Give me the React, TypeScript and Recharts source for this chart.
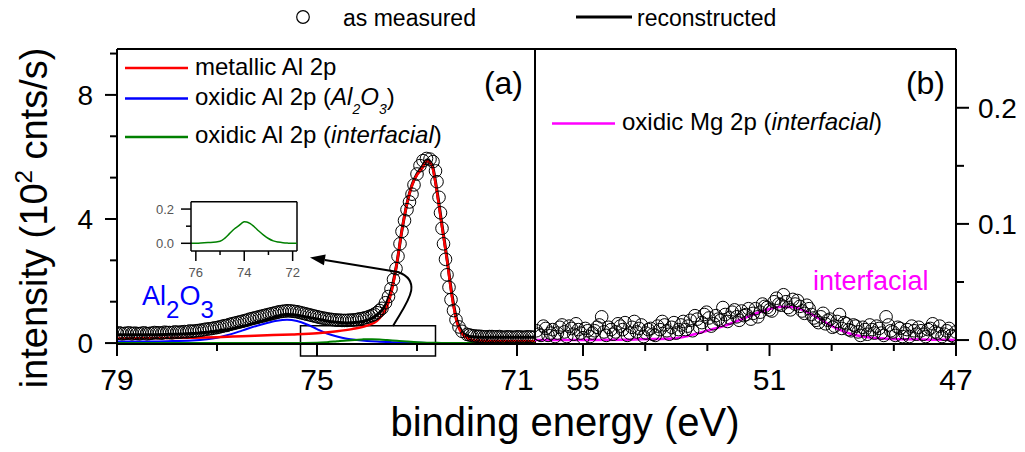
import React from 'react';
import { ComposedChart, LineChart, Line, Scatter, XAxis, YAxis, ReferenceArea, ReferenceLine } from 'recharts';

const FONT = '"Liberation Sans", Arial, Helvetica, sans-serif';

// ---------- (a) Al 2p region ----------
const alMeasuredEnergy = [
  79.0, 78.9, 78.8, 78.7, 78.6, 78.5, 78.4, 78.3, 78.2, 78.1,
  78.0, 77.9, 77.8, 77.7, 77.6, 77.5, 77.4, 77.3, 77.2, 77.1,
  77.0, 76.9, 76.8, 76.7, 76.6, 76.5, 76.4, 76.3, 76.2, 76.1,
  76.0, 75.9, 75.8, 75.7, 75.6, 75.5, 75.4, 75.3, 75.2, 75.1,
  75.0, 74.9, 74.8, 74.7, 74.6, 74.5, 74.4, 74.3, 74.2, 74.1,
  74.0, 73.9, 73.8, 73.7,
  73.63, 73.57, 73.52, 73.47, 73.42, 73.38, 73.34, 73.3, 73.25, 73.2,
  73.15, 73.1, 73.06, 73.0, 72.94, 72.88, 72.81, 72.74, 72.68, 72.63,
  72.6, 72.56, 72.53, 72.5, 72.47, 72.43, 72.4, 72.36, 72.32, 72.27,
  72.22, 72.16, 72.1,
  72.0, 71.9, 71.8, 71.7, 71.6, 71.5, 71.4, 71.3, 71.2, 71.1,
  71.0, 70.9, 70.8, 70.7,
  78.95, 78.85, 78.75, 78.65, 78.55, 78.45, 78.35, 78.25, 78.15, 78.05,
  77.95, 77.85, 77.75, 77.65, 77.55, 77.45, 77.35, 77.25, 77.15, 77.05,
  76.95, 76.85, 76.75, 76.65, 76.55, 76.45, 76.35, 76.25, 76.15, 76.05,
  75.95, 75.85, 75.75, 75.65, 75.55, 75.45, 75.35, 75.25, 75.15, 75.05,
  74.95, 74.85, 74.75, 74.65, 74.55, 74.45, 74.35, 74.25, 74.15, 74.05,
  73.95, 73.85, 73.75,
  71.95, 71.85, 71.75, 71.65, 71.55, 71.45, 71.35, 71.25, 71.15, 71.05,
  70.95, 70.85, 70.75, 70.65,
];
const alMeasuredIntensity = [
  0.31, 0.30, 0.32, 0.30, 0.31, 0.32, 0.30, 0.32, 0.33, 0.32,
  0.34, 0.33, 0.35, 0.36, 0.36, 0.38, 0.40, 0.42, 0.45, 0.47,
  0.50, 0.54, 0.57, 0.62, 0.66, 0.70, 0.74, 0.79, 0.83, 0.87,
  0.91, 0.95, 0.99, 1.02, 1.04, 1.03, 1.01, 0.97, 0.93, 0.89,
  0.85, 0.81, 0.78, 0.76, 0.74, 0.73, 0.73, 0.74, 0.76, 0.79,
  0.83, 0.89, 0.98, 1.12,
  1.30, 1.50, 1.75, 2.05, 2.40, 2.80, 3.20, 3.60, 3.95, 4.30,
  4.55, 4.80, 5.10, 5.45, 5.72, 5.88, 5.95, 5.93, 5.85, 5.55,
  5.20, 4.70, 4.20, 3.70, 3.20, 2.70, 2.20, 1.80, 1.40, 1.05,
  0.75, 0.52, 0.38,
  0.28, 0.24, 0.22, 0.21, 0.20, 0.21, 0.20, 0.19, 0.20, 0.19,
  0.20, 0.19, 0.20, 0.19,
  0.33, 0.31, 0.33, 0.32, 0.30, 0.33, 0.31, 0.34, 0.33, 0.35,
  0.34, 0.36, 0.35, 0.37, 0.39, 0.39, 0.41, 0.44, 0.46, 0.49,
  0.52, 0.56, 0.60, 0.64, 0.68, 0.72, 0.77, 0.81, 0.85, 0.89,
  0.93, 0.97, 1.01, 1.03, 1.04, 1.02, 0.99, 0.95, 0.91, 0.87,
  0.83, 0.80, 0.77, 0.75, 0.74, 0.73, 0.74, 0.75, 0.78, 0.81,
  0.86, 0.93, 1.05,
  0.26, 0.23, 0.22, 0.20, 0.21, 0.20, 0.21, 0.19, 0.20, 0.19,
  0.20, 0.19, 0.20, 0.19,
];

const alFitEnergy = [
  79.0, 78.5, 78.0, 77.5, 77.2, 77.0, 76.8, 76.5, 76.2, 76.0,
  75.8, 75.6, 75.4, 75.2, 75.0, 74.8, 74.6, 74.4, 74.2, 74.0,
  73.9, 73.8, 73.7, 73.6, 73.5, 73.4, 73.3, 73.2, 73.1, 73.0,
  72.9, 72.8, 72.7, 72.6, 72.5, 72.4, 72.3, 72.2, 72.1, 72.0,
  71.9, 71.7, 71.0, 70.64,
];
const alFitIntensity = [
  0.27, 0.27, 0.28, 0.31, 0.35, 0.38, 0.43, 0.54, 0.67, 0.76,
  0.86, 0.92, 0.90, 0.84, 0.78, 0.71, 0.67, 0.65, 0.67, 0.73,
  0.80, 0.91, 1.06, 1.32, 1.80, 2.60, 3.65, 4.50, 5.10, 5.45,
  5.68, 5.90, 5.75, 4.90, 3.80, 2.72, 1.55, 0.72, 0.36, 0.24,
  0.20, 0.19, 0.19, 0.19,
];

const alMetalEnergy = [
  79.0, 78.0, 77.5, 77.0, 76.5, 76.0, 75.5, 75.0, 74.6, 74.3,
  74.0, 73.8, 73.7, 73.6, 73.5, 73.4, 73.3, 73.2, 73.1, 73.0,
  72.9, 72.8, 72.7, 72.6, 72.5, 72.4, 72.3, 72.2, 72.1, 72.0,
  71.9, 71.8, 71.5, 71.0, 70.64,
];
const alMetalIntensity = [
  0.15, 0.16, 0.17, 0.19, 0.22, 0.25, 0.28, 0.32, 0.38, 0.45,
  0.56, 0.72, 0.90, 1.17, 1.71, 2.60, 3.65, 4.50, 5.08, 5.42,
  5.62, 5.85, 5.70, 4.85, 3.75, 2.68, 1.49, 0.64, 0.30, 0.16,
  0.10, 0.08, 0.07, 0.07, 0.07,
];

const alOxideEnergy = [
  79.0, 78.5, 78.0, 77.5, 77.2, 77.0, 76.8, 76.5, 76.2, 76.0,
  75.8, 75.6, 75.4, 75.2, 75.0, 74.8, 74.6, 74.4, 74.2, 74.0,
  73.8, 73.5, 73.2, 72.8, 72.4, 70.64,
];
const alOxideIntensity = [
  0.05, 0.05, 0.06, 0.08, 0.12, 0.17, 0.25, 0.40, 0.56, 0.65,
  0.72, 0.75, 0.71, 0.60, 0.45, 0.31, 0.21, 0.14, 0.10, 0.07,
  0.05, 0.03, 0.015, 0.005, 0.0, 0.0,
];

const alInterEnergy = [
  79.0, 76.0, 75.5, 75.0, 74.8, 74.6, 74.4, 74.25, 74.1, 74.0,
  73.9, 73.75, 73.6, 73.4, 73.2, 73.0, 72.8, 72.6, 72.4, 72.2,
  72.0, 70.64,
];
const alInterIntensity = [
  0.0, 0.0, 0.004, 0.012, 0.03, 0.058, 0.085, 0.10, 0.118, 0.126,
  0.125, 0.115, 0.098, 0.072, 0.048, 0.028, 0.014, 0.007, 0.003, 0.001,
  0.0, 0.0,
];

const alTicksX = [79, 77, 75, 73, 71];
const alLabelsX = [79, 75, 71];
const alTicksY = [0, 1.3333, 2.6667, 4, 5.3333, 6.6667, 8, 9.3333];
const alLabelsY = [0, 4, 8];

const insetTicksX = [76, 75, 74, 73, 72];
const insetLabelsX = [76, 74, 72];
const insetTicksY = [0, 0.1, 0.2];
const insetLabelsY = [0, 0.2];

// ---------- (b) Mg 2p region ----------
const mgMeasuredEnergy = [
  56.0, 55.9, 55.8, 55.7, 55.6, 55.5, 55.4, 55.3, 55.2, 55.1,
  55.0, 54.9, 54.8, 54.7, 54.6, 54.5, 54.4, 54.3, 54.2, 54.1,
  54.0, 53.9, 53.8, 53.7, 53.6, 53.5, 53.4, 53.3, 53.2, 53.1,
  53.0, 52.9, 52.8, 52.7, 52.6, 52.5, 52.4, 52.3, 52.2, 52.1,
  52.0, 51.9, 51.8, 51.7, 51.6, 51.5, 51.4, 51.3, 51.2, 51.1,
  51.0, 50.9, 50.8, 50.7, 50.6, 50.5, 50.4, 50.3, 50.2, 50.1,
  50.0, 49.9, 49.8, 49.7, 49.6, 49.5, 49.4, 49.3, 49.2, 49.1,
  49.0, 48.9, 48.8, 48.7, 48.6, 48.5, 48.4, 48.3, 48.2, 48.1,
  48.0, 47.9, 47.8, 47.7, 47.6, 47.5, 47.4, 47.3, 47.2, 47.1,
  47.0,
  55.95, 55.85, 55.75, 55.65, 55.55, 55.45, 55.35, 55.25, 55.15, 55.05,
  54.95, 54.85, 54.75, 54.65, 54.55, 54.45, 54.35, 54.25, 54.15, 54.05,
  53.95, 53.85, 53.75, 53.65, 53.55, 53.45, 53.35, 53.25, 53.15, 53.05,
  52.95, 52.85, 52.75, 52.65, 52.55, 52.45, 52.35, 52.25, 52.15, 52.05,
  51.95, 51.85, 51.75, 51.65, 51.55, 51.45, 51.35, 51.25, 51.15, 51.05,
  50.95, 50.85, 50.75, 50.65, 50.55, 50.45, 50.35, 50.25, 50.15, 50.05,
  49.95, 49.85, 49.75, 49.65, 49.55, 49.45, 49.35, 49.25, 49.15, 49.05,
  48.95, 48.85, 48.75, 48.65, 48.55, 48.45, 48.35, 48.25, 48.15, 48.05,
  47.95, 47.85, 47.75, 47.65, 47.55, 47.45, 47.35, 47.25, 47.15, 47.05,
];
const mgMeasuredIntensity = [
  0.008, 0.004, 0.010, 0.006, 0.003, 0.011, 0.007, 0.012, 0.005, 0.009,
  0.002, 0.008, 0.006, 0.011, 0.020, 0.004, 0.009, 0.007, 0.012, 0.015,
  0.006, 0.016, 0.010, 0.003, 0.009, 0.005, 0.012, 0.016, 0.008, 0.011,
  0.006, 0.013, 0.009, 0.017, 0.021, 0.011, 0.022, 0.019, 0.014, 0.018,
  0.028, 0.016, 0.024, 0.020, 0.025, 0.022, 0.018, 0.027, 0.024, 0.029,
  0.026, 0.033, 0.031, 0.039, 0.028, 0.035, 0.034, 0.025, 0.030, 0.022,
  0.017, 0.020, 0.014, 0.018, 0.012, 0.022, 0.015, 0.009, 0.013, 0.007,
  0.011, 0.005, 0.009, 0.012, 0.006, 0.020, 0.008, 0.004, 0.010, 0.006,
  0.003, 0.008, 0.011, 0.005, 0.009, 0.014, 0.006, 0.003, 0.008, 0.004,
  0.007,
  0.005, 0.012, 0.004, 0.009, 0.006, 0.013, 0.003, 0.010, 0.014, 0.006,
  0.010, 0.003, 0.008, 0.013, 0.007, 0.011, 0.005, 0.014, 0.009, 0.004,
  0.011, 0.007, 0.013, 0.006, 0.010, 0.004, 0.009, 0.013, 0.005, 0.015,
  0.009, 0.016, 0.012, 0.008, 0.018, 0.015, 0.024, 0.012, 0.021, 0.017,
  0.022, 0.019, 0.026, 0.017, 0.021, 0.027, 0.023, 0.020, 0.031, 0.028,
  0.025, 0.036, 0.030, 0.033, 0.026, 0.031, 0.029, 0.023, 0.027, 0.019,
  0.015, 0.023, 0.017, 0.011, 0.016, 0.010, 0.014, 0.008, 0.012, 0.004,
  0.009, 0.013, 0.006, 0.010, 0.004, 0.013, 0.007, 0.011, 0.003, 0.009,
  0.012, 0.005, 0.008, 0.003, 0.010, 0.007, 0.012, 0.005, 0.010, 0.003,
];

const mgInterEnergy = [
  56.03, 55.0, 54.0, 53.5, 53.0, 52.75, 52.5, 52.25, 52.0, 51.75,
  51.5, 51.25, 51.0, 50.75, 50.5, 50.25, 50.0, 49.75, 49.5, 49.25,
  49.0, 48.75, 48.5, 48.0, 47.5, 47.0,
];
const mgInterIntensity = [
  0.0, 0.0, 0.0003, 0.0008, 0.0016, 0.0035, 0.0062, 0.009, 0.0118, 0.0155,
  0.0195, 0.0235, 0.0268, 0.0287, 0.0282, 0.0252, 0.020, 0.014, 0.009, 0.0052,
  0.003, 0.0018, 0.0012, 0.0006, 0.0003, 0.0,
];

const mgTicksX = [55, 53.6667, 52.3333, 51, 49.6667, 48.3333, 47];
const mgLabelsX = [55, 51, 47];
const mgTicksY = [0, 0.05, 0.1, 0.15, 0.2];
const mgLabelsY = [0, 0.1, 0.2];

// axis ranges
const AL_X: [number, number] = [70.64, 79.0];
const AL_Y: [number, number] = [-0.03, 9.48];
const MG_X: [number, number] = [47.0, 56.03];
const MG_Y: [number, number] = [-0.0034, 0.2506];
const INSET_X: [number, number] = [71.82, 76.2];
const INSET_Y: [number, number] = [-0.045, 0.243];

const toPoints = (xs: number[], ys: number[]) => xs.map((x, i) => ({ x, y: ys[i] }));

type TickSpec = {
  side: 'bottom' | 'left' | 'right';
  labeled: number[];
  major: number;
  minor: number;
  gap: number;
  size: number;
  digits: number;
  color: string;
  width: number;
};

function tickRenderer(spec: TickSpec) {
  return (props: any) => {
    const { x, y, payload } = props;
    const v = Number(payload.value);
    const isMajor = spec.labeled.some((l) => Math.abs(l - v) < 1e-3);
    const len = isMajor ? spec.major : spec.minor;
    const label = isMajor ? v.toFixed(spec.digits) : null;
    if (spec.side === 'bottom') {
      return (
        <g>
          <line x1={x} y1={y} x2={x} y2={y + len} stroke="#000" strokeWidth={spec.width} />
          {label && (
            <text x={x} y={y + spec.gap} textAnchor="middle" fontSize={spec.size} fontFamily={FONT} fill={spec.color}>
              {label}
            </text>
          )}
        </g>
      );
    }
    const dir = spec.side === 'left' ? -1 : 1;
    return (
      <g>
        <line x1={x} y1={y} x2={x + dir * len} y2={y} stroke="#000" strokeWidth={spec.width} />
        {label && (
          <text
            x={x + dir * spec.gap}
            y={y + spec.size * 0.36}
            textAnchor={dir < 0 ? 'end' : 'start'}
            fontSize={spec.size}
            fontFamily={FONT}
            fill={spec.color}
          >
            {label}
          </text>
        )}
      </g>
    );
  };
}

const ring = (props: any) => (
  <circle cx={props.cx} cy={props.cy} r={6.3} fill="none" stroke="#000" strokeWidth={1} />
);

const AXIS_LINE = { stroke: '#000', strokeWidth: 2 };

// plot area of panel (a), used for the annotation arrow
const A_LEFT = 117;
const A_RIGHT = 535;
const A_TOP = 49;
const A_BOTTOM = 344;
const ax = (e: number) => A_LEFT + ((AL_X[1] - e) / (AL_X[1] - AL_X[0])) * (A_RIGHT - A_LEFT);
const ay = (v: number) => A_BOTTOM - ((v - AL_Y[0]) / (AL_Y[1] - AL_Y[0])) * (A_BOTTOM - A_TOP);

// arrow from the zoom box up to the inset, in (eV, intensity)
const arrowPath = [
  [73.48, 0.55],
  [73.24, 1.23],
  [72.84, 1.97],
  [73.38, 2.29],
];
const arrowTip = [75.14, 2.76];

function PanelA() {
  return (
    <ComposedChart width={540} height={452} margin={{ top: 49, right: 5, bottom: 0, left: 0 }}>
      <XAxis
        dataKey="x"
        type="number"
        domain={AL_X}
        reversed
        allowDataOverflow
        ticks={alTicksX}
        interval={0}
        height={108}
        tickSize={0}
        tickMargin={0}
        tickLine={false}
        axisLine={AXIS_LINE}
        tick={tickRenderer({ side: 'bottom', labeled: alLabelsX, major: 12, minor: 7, gap: 46, size: 30, digits: 0, color: '#000', width: 2 })}
      />
      <YAxis
        dataKey="y"
        type="number"
        domain={AL_Y}
        allowDataOverflow
        ticks={alTicksY}
        interval={0}
        width={117}
        tickSize={0}
        tickMargin={0}
        tickLine={false}
        axisLine={AXIS_LINE}
        tick={tickRenderer({ side: 'left', labeled: alLabelsY, major: 12, minor: 7, gap: 24, size: 28, digits: 0, color: '#000', width: 2 })}
      />
      {/* frame: top edge and the divider between the panels */}
      <ReferenceLine y={AL_Y[1]} stroke="#000" strokeWidth={2} />
      <ReferenceLine x={AL_X[0]} stroke="#000" strokeWidth={2} />
      <ReferenceArea
        x1={75.33}
        x2={72.63}
        y1={-0.42}
        y2={0.56}
        ifOverflow="visible"
        fill="none"
        fillOpacity={0}
        stroke="#000"
        strokeWidth={1.5}
      />
      <Scatter data={toPoints(alMeasuredEnergy, alMeasuredIntensity)} shape={ring} isAnimationActive={false} />
      <Line data={toPoints(alFitEnergy, alFitIntensity)} dataKey="y" type="monotone" stroke="#000" strokeWidth={3} dot={false} activeDot={false} isAnimationActive={false} />
      <Line data={toPoints(alOxideEnergy, alOxideIntensity)} dataKey="y" type="monotone" stroke="#0000ff" strokeWidth={2} dot={false} activeDot={false} isAnimationActive={false} />
      <Line data={toPoints(alInterEnergy, alInterIntensity)} dataKey="y" type="monotone" stroke="#008000" strokeWidth={2} dot={false} activeDot={false} isAnimationActive={false} />
      <Line data={toPoints(alMetalEnergy, alMetalIntensity)} dataKey="y" type="monotone" stroke="#ff0000" strokeWidth={2.5} dot={false} activeDot={false} isAnimationActive={false} />
    </ComposedChart>
  );
}

function PanelB() {
  return (
    <ComposedChart width={490} height={452} margin={{ top: 49, right: 0, bottom: 0, left: 0 }}>
      <XAxis
        dataKey="x"
        type="number"
        domain={MG_X}
        reversed
        allowDataOverflow
        ticks={mgTicksX}
        interval={0}
        height={108}
        tickSize={0}
        tickMargin={0}
        tickLine={false}
        axisLine={AXIS_LINE}
        tick={tickRenderer({ side: 'bottom', labeled: mgLabelsX, major: 12, minor: 7, gap: 46, size: 30, digits: 0, color: '#000', width: 2 })}
      />
      <YAxis
        dataKey="y"
        orientation="right"
        type="number"
        domain={MG_Y}
        allowDataOverflow
        ticks={mgTicksY}
        interval={0}
        width={69}
        tickSize={0}
        tickMargin={0}
        tickLine={false}
        axisLine={AXIS_LINE}
        tick={tickRenderer({ side: 'right', labeled: mgLabelsY, major: 13, minor: 8, gap: 22, size: 28, digits: 1, color: '#000', width: 2 })}
      />
      <ReferenceLine y={MG_Y[1]} stroke="#000" strokeWidth={2} />
      <ReferenceLine x={MG_X[1]} stroke="#000" strokeWidth={2} />
      <Scatter data={toPoints(mgMeasuredEnergy, mgMeasuredIntensity)} shape={ring} isAnimationActive={false} />
      <Line data={toPoints(mgInterEnergy, mgInterIntensity)} dataKey="y" type="monotone" stroke="#ff00ff" strokeWidth={2.5} dot={false} activeDot={false} isAnimationActive={false} />
    </ComposedChart>
  );
}

function Inset() {
  const INSET_LINE = { stroke: '#000', strokeWidth: 1.5 };
  return (
    <LineChart width={165} height={90} margin={{ top: 6.7, right: 8, bottom: 0, left: 0 }}>
      <XAxis
        dataKey="x"
        type="number"
        domain={INSET_X}
        reversed
        allowDataOverflow
        ticks={insetTicksX}
        interval={0}
        height={34}
        tickSize={0}
        tickMargin={0}
        tickLine={false}
        axisLine={INSET_LINE}
        tick={tickRenderer({ side: 'bottom', labeled: insetLabelsX, major: 10, minor: 4, gap: 26, size: 13, digits: 0, color: '#555', width: 1.5 })}
      />
      <YAxis
        dataKey="y"
        type="number"
        domain={INSET_Y}
        allowDataOverflow
        ticks={insetTicksY}
        interval={0}
        width={51}
        tickSize={0}
        tickMargin={0}
        tickLine={false}
        axisLine={INSET_LINE}
        tick={tickRenderer({ side: 'left', labeled: insetLabelsY, major: 10, minor: 5, gap: 17, size: 13, digits: 1, color: '#555', width: 1.5 })}
      />
      <ReferenceLine y={INSET_Y[1]} stroke="#000" strokeWidth={1.5} />
      <ReferenceLine x={INSET_X[0]} stroke="#000" strokeWidth={1.5} />
      <Line data={toPoints(alInterEnergy, alInterIntensity)} dataKey="y" type="monotone" stroke="#008000" strokeWidth={1.5} dot={false} activeDot={false} isAnimationActive={false} />
    </LineChart>
  );
}

function Annotations() {
  const [p0, p1, p2, p3] = arrowPath.map(([e, v]) => [ax(e), ay(v)]);
  const tip = [ax(arrowTip[0]), ay(arrowTip[1])];
  const dx = tip[0] - p3[0];
  const dy = tip[1] - p3[1];
  const len = Math.hypot(dx, dy);
  const ux = dx / len;
  const uy = dy / len;
  const head = 15;
  const half = 5.5;
  const bx = tip[0] - ux * head;
  const by = tip[1] - uy * head;
  const headPts = `${tip[0]},${tip[1]} ${bx - uy * half},${by + ux * half} ${bx + uy * half},${by - ux * half}`;
  const txt = { fontFamily: FONT, fill: '#000' } as const;
  return (
    <svg width={1025} height={452} style={{ position: 'absolute', left: 0, top: 0, pointerEvents: 'none' }}>
      {/* top legend */}
      <circle cx={303} cy={17} r={6.3} fill="none" stroke="#000" strokeWidth={1.2} />
      <text x={343} y={26} fontSize={23} {...txt}>as measured</text>
      <line x1={576} y1={17} x2={632} y2={17} stroke="#000" strokeWidth={3} />
      <text x={637} y={26} fontSize={23} {...txt}>reconstructed</text>

      {/* legend of panel (a) */}
      <line x1={125} y1={68} x2={188} y2={68} stroke="#ff0000" strokeWidth={2.5} />
      <text x={195} y={75} fontSize={24} {...txt}>metallic Al 2p</text>
      <line x1={125} y1={98.5} x2={188} y2={98.5} stroke="#0000ff" strokeWidth={2.5} />
      <text x={195} y={105} fontSize={24} {...txt}>
        oxidic Al 2p (
        <tspan fontStyle="italic">Al</tspan>
        <tspan fontStyle="italic" fontSize={14} dy={9}>2</tspan>
        <tspan fontStyle="italic" fontSize={24} dy={-9}>O</tspan>
        <tspan fontStyle="italic" fontSize={14} dy={9}>3</tspan>
        <tspan fontSize={24} dy={-9}>)</tspan>
      </text>
      <line x1={125} y1={137} x2={188} y2={137} stroke="#008000" strokeWidth={2.5} />
      <text x={195} y={143} fontSize={24} {...txt}>
        oxidic Al 2p (<tspan fontStyle="italic">interfacial</tspan>)
      </text>
      <text x={523} y={94} fontSize={32} textAnchor="end" {...txt}>(a)</text>

      {/* legend of panel (b) */}
      <line x1={552} y1={123.5} x2={615} y2={123.5} stroke="#ff00ff" strokeWidth={2.5} />
      <text x={622} y={130} fontSize={24} {...txt}>
        oxidic Mg 2p (<tspan fontStyle="italic">interfacial</tspan>)
      </text>
      <text x={945} y={94} fontSize={32} textAnchor="end" {...txt}>(b)</text>

      {/* peak labels */}
      <text x={142} y={305} fontSize={27} fontFamily={FONT} fill="#0000ff">
        Al<tspan fontSize={24} dy={13}>2</tspan>
        <tspan fontSize={27} dy={-13}>O</tspan>
        <tspan fontSize={24} dy={13}>3</tspan>
      </text>
      <text x={813} y={290} fontSize={27} fontFamily={FONT} fill="#ff00ff">interfacial</text>

      {/* arrow from the zoom box to the inset */}
      <path
        d={`M ${p0[0]} ${p0[1]} C ${p1[0]} ${p1[1]} ${p2[0]} ${p2[1]} ${p3[0]} ${p3[1]} L ${bx} ${by}`}
        fill="none"
        stroke="#000"
        strokeWidth={2}
      />
      <polygon points={headPts} fill="#000" />

      {/* axis titles */}
      <text transform="translate(47,218) rotate(-90)" textAnchor="middle" fontSize={38} {...txt}>
        intensity (10<tspan fontSize={24} dy={-15}>2</tspan>
        <tspan fontSize={38} dy={15}> cnts/s)</tspan>
      </text>
      <text x={565} y={436} textAnchor="middle" fontSize={40} {...txt}>binding energy (eV)</text>
    </svg>
  );
}

export default function App() {
  return (
    <div style={{ position: 'absolute', left: 0, top: 0, width: 1025, height: 452, background: '#fff', overflow: 'hidden' }}>
      <div style={{ position: 'absolute', left: 0, top: 0 }}>
        <PanelA />
      </div>
      <div style={{ position: 'absolute', left: 535, top: 0 }}>
        <PanelB />
      </div>
      <div style={{ position: 'absolute', left: 140, top: 195 }}>
        <Inset />
      </div>
      <Annotations />
    </div>
  );
}
